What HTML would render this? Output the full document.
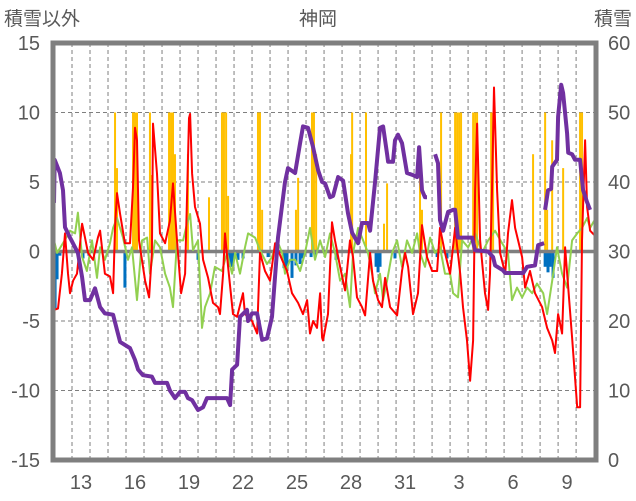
<!DOCTYPE html>
<html><head><meta charset="utf-8">
<style>
html,body{margin:0;padding:0;background:#fff;}
svg{display:block;font-family:"Liberation Sans","Noto Sans CJK JP",sans-serif;}
</style></head>
<body>
<svg id="chart" width="636" height="501" viewBox="0 0 636 501" xmlns="http://www.w3.org/2000/svg">
<text x="4" y="25" font-size="19" fill="#595959">積雪以外</text>
<text x="318" y="25" font-size="19" fill="#595959" text-anchor="middle">神岡</text>
<text x="632" y="25" font-size="19" fill="#595959" text-anchor="end">積雪</text>
<g id="grid"></g>
<g id="bars" clip-path="url(#pc)"></g>
<g id="lines" clip-path="url(#pc)"></g>
<g id="axes"></g>
<defs><clipPath id="pc"><rect x="54" y="43" width="541" height="417"/></clipPath></defs>
</svg>
<script>
const xLabels=["13","16","19","22","25","28","31","3","6","9"];
const xLabelDays=[1.5,4.5,7.5,10.5,13.5,16.5,19.5,22.5,25.5,28.5];
const leftTicks=[15,10,5,0,-5,-10,-15];
const rightTicks=[60,50,40,30,20,10,0];
const redT=[0,.22,.44,.61,.78,.89,1.06,1.28,1.56,1.72,1.89,2.17,2.44,2.56,2.83,3.11,3.28,3.39,3.5,3.67,3.94,4.22,4.39,4.5,4.61,4.72,5.06,5.28,5.44,5.5,5.72,5.89,6.17,6.44,6.61,6.83,7.06,7.28,7.5,7.56,7.67,7.83,8.11,8.28,8.56,8.83,9.11,9.22,9.39,9.5,9.67,9.94,10.17,10.5,10.61,11,11.28,11.44,11.72,12,12.28,12.67,12.94,13.22,13.56,13.83,14.06,14.22,14.39,14.61,14.78,14.89,14.94,15.22,15.44,15.61,15.89,16.17,16.44,16.61,16.83,17.11,17.28,17.56,17.72,18,18.22,18.39,18.67,19.06,19.33,19.5,19.67,19.94,20.22,20.44,20.72,21,21.28,21.44,21.72,22,22.28,22.56,22.72,22.94,23.11,23.28,23.39,23.5,23.67,23.94,24.11,24.22,24.33,24.44,24.61,24.78,25.06,25.22,25.44,25.61,25.78,26,26.17,26.44,26.72,27.11,27.39,27.67,27.83,28,28.22,28.39,28.78,29.06,29.22,29.33,29.5,29.61,29.78,30];
const redV=[-4.2,-4.1,-1.6,1.3,-1.6,-3,-2.1,-1.6,2,1,-0.1,-0.6,1,1.5,-1.6,-1.8,-3,1.7,4.2,2.7,0.6,0.6,4.6,8.9,8,0.8,-2.1,-3.3,-0.1,9.2,5.6,1.3,0.6,2.2,4.9,0.8,-3,-1.6,9.6,9.9,5.6,3.2,2,-0.6,-1.9,-3.7,-4,-4.5,-1.6,1.3,-1.1,-4.5,-4.7,-3,-4.5,-5,-5.9,-0.1,-1.4,-2.1,0.6,-0.6,-1.4,-3,-3.7,-4.5,-3.5,-5.9,-5,-5.5,-3,-6.2,-6.4,-4.5,2.1,0.8,-1.1,-2.8,0.8,-0.4,-3.3,-4,-4.6,-0.1,-2.1,-3.5,-4,-1.9,-4,-4.6,-1.4,-0.1,-1.1,-4.5,-3,1.9,-0.4,-1.4,-1.4,1.7,-0.1,-1.6,1.7,-1.6,-4,-6.4,-9.3,-6.4,4.4,9.2,0.8,-3,-4.2,-1.6,4.4,11.8,4.4,-0.1,-1.6,1.3,3.7,1.7,0.8,-0.4,-2.6,-1.4,-3,-4,-5.5,-6.4,-7.3,-4.5,-5.9,0.3,-6.2,-11.2,-11.2,0.8,8,3.2,1.5,1.2];
const greenT=[0,.17,.5,.89,1.17,1.33,1.56,1.83,2.11,2.39,2.56,2.83,3.11,3.28,3.5,3.83,4.11,4.33,4.61,4.89,5.17,5.33,5.61,5.89,6.17,6.44,6.61,6.83,7.17,7.39,7.56,7.72,8,8.22,8.39,8.67,8.94,9.33,9.61,9.89,10.06,10.33,10.61,10.78,11.17,11.44,11.83,12.11,12.39,12.67,12.83,13.11,13.39,13.67,13.94,14.22,14.5,14.78,15.06,15.33,15.61,15.89,16.17,16.44,16.61,16.89,17.17,17.44,17.67,17.83,18.11,18.28,18.5,18.78,19.06,19.33,19.61,19.89,20.17,20.33,20.61,20.89,21.17,21.44,21.72,22,22.17,22.44,22.67,23,23.39,23.78,24.11,24.5,24.89,25.22,25.44,25.72,26,26.28,26.56,26.83,27.17,27.39,27.67,27.94,28.22,28.5,28.78,29.06,29.33,29.61,29.78,30];
const greenV=[0.8,-0.1,0.6,1.5,1.3,2.8,-0.4,-1.4,0.8,-1.9,0.3,-0.6,0.6,1.7,2.4,1,-0.6,0.3,-3.5,0.8,1,-1.6,0.8,0.3,-1.6,-2.6,-4,0.8,0.8,2,2.7,0.1,0.8,-5.5,-4,-3,-1.1,-1.4,-0.1,-1.6,-0.1,-1.6,0.3,1.3,1,0.1,-0.9,-0.4,0.8,-0.1,-1.6,-0.6,-0.6,-1.4,-0.1,1.7,-0.6,0.8,-0.4,1.3,-0.1,-2.1,-1.6,-4,-0.1,1.7,0.8,-0.1,-1.6,-3,-1.6,-3.5,-2.1,-0.1,0.8,-1.1,0.8,-0.1,1.3,-0.1,-1.1,1,-0.1,0.3,-1.6,-1.6,-3,-3.3,0.8,0.3,1.3,-0.1,0.8,1.5,0.6,-0.1,-3.5,-2.6,-3.3,-2.6,-3,-2.3,-3,-4.5,-2.1,0.3,-1.6,-2.6,0.8,1.3,1.7,2.4,1.7,2.2];
const snowT=[0,.04,.33,.5,.61,.89,1.33,1.56,1.72,2,2.28,2.56,2.83,3.28,3.5,3.67,4.22,4.5,4.67,4.94,5.44,5.61,6.28,6.44,6.72,7,7.28,7.44,7.67,8,8.28,8.5,9.61,9.78,9.89,10.17,10.33,10.72,10.78,11,11.28,11.56,11.83,12.11,12.44,12.83,13,13.39,13.67,13.83,14.11,14.39,14.67,14.89,15.06,15.33,15.5,15.78,16.06,16.33,16.56,16.89,17.11,17.44,17.56,17.83,18.11,18.28,18.5,18.56,18.83,18.94,19.11,19.33,19.61,19.94,20.17,20.28,20.44,20.61,20.72,20.9,21.1,21.17,21.33,21.44,21.61,21.89,22.17,22.28,22.44,23.22,23.39,24.11,24.39,24.5,24.94,25.06,26.06,26.28,26.72,26.89,27.22,27.25,27.28,27.44,27.61,27.67,27.94,28,28.17,28.28,28.5,28.56,28.78,28.94,29.22,29.39,29.61,29.78];
const snowV=[37,43.2,41.3,38.8,33.5,32,29.8,26.3,23,23,24.7,22,21.1,20.9,18.7,17,16.1,14.4,13,12.2,12,11.1,11.1,10,8.9,9.8,9.8,8.9,8.6,7.2,7.6,8.9,8.9,7.9,13,13.7,20.6,21.6,20,21.1,21.1,17.3,17.5,20.6,32,40,42,41.3,45.6,48,47.8,45,41.7,40,39.8,37.8,38,40.7,40.2,35.5,32.7,31.2,34.1,34.1,33,39.9,47.8,48,44,42.9,42.9,46,46.8,45.6,41.3,41,40.7,45,38.8,37.8,37.8,null,null,44,42.7,34.5,33,35.7,36,36,32,32,30.2,30,29.2,28,27.3,26.9,26.9,27.8,28,30.9,31.2,null,36,38.8,39,42.2,43.2,49.4,54,52.8,47,44.2,44,43.2,43.2,38.8,37.1,36];
const snowfallT=[3.39,3.5,4.39,4.5,4.61,5.33,5.44,6.39,6.5,6.61,6.72,7.44,8.61,9.33,9.44,9.56,9.67,11.33,11.44,11.56,13.44,13.56,14.33,14.44,14.56,16.5,16.56,17.33,18.33,18.5,20.33,20.44,21.5,22.28,22.39,22.5,22.61,23.28,23.39,23.5,24.28,24.39,26.61,27.28,27.39,27.67,28.28,29.22,29.33];
const snowfallV=[10,6,10,10,10,10,5.5,10,10,10,7,7,3.9,10,10,10,4,10,10,3,3,5.3,10,10,7,7,10,10,2,4.9,5.8,3,10,10,10,10,10,10,10,10,10,10,7,10,3,8,6,10,10];
const blueT=[0.06,0.17,0.33,1.61,1.94,3.94,8,9.72,9.83,9.94,10.22,10.5,11.89,12.78,12.94,13.22,13.44,13.67,13.83,14.28,14.5,15.67,17.89,18,18.11,18.94,21.28,21.83,27.28,27.44,27.56,27.72];
const blueV=[-4.1,-2,-0.3,-0.5,-0.3,-2.6,-0.6,-1.1,-1.1,-1.1,-0.6,-0.5,-0.4,-1.2,-1.2,-1.9,-1,-0.9,-0.5,-0.4,-0.4,-0.6,-1.1,-1.5,-1.1,-0.5,-0.4,-0.5,-1.1,-1.5,-1.1,-1.9];

const NS="http://www.w3.org/2000/svg";
const X0=54,X1=595,Y0=43,Y1=460;
function xs(t){return X0+t*(X1-X0)/30.05;}
function yl(v){return Y1-(v+15)*(Y1-Y0)/30;}
function yr(v){return Y1-v*(Y1-Y0)/60;}
function mk(tag,attrs,parent){const e=document.createElementNS(NS,tag);for(const k in attrs)e.setAttribute(k,attrs[k]);parent.appendChild(e);return e;}
const grid=document.getElementById('grid'),bars=document.getElementById('bars'),lines=document.getElementById('lines'),axes=document.getElementById('axes');
for(let d=1;d<=29;d++){
  const l=mk('line',{x1:xs(d),x2:xs(d),y1:Y0,y2:Y1,stroke:'#7f7f7f','stroke-width':1,'stroke-dasharray':'4,3'},grid);
  
  
}
leftTicks.forEach(v=>{
  if(v!==0&&v!==15&&v!==-15){const l=mk('line',{x1:X0,x2:X1,y1:yl(v),y2:yl(v),stroke:'#7f7f7f','stroke-width':1,'stroke-dasharray':'4,3'},grid);
  
  }
  const t=mk('text',{x:40,y:yl(v)+7,'font-size':20,fill:'#595959','text-anchor':'end'},axes);t.textContent=v;
  
  
});
rightTicks.forEach(v=>{
  const t=mk('text',{x:608,y:yr(v)+7,'font-size':20,fill:'#595959'},axes);t.textContent=v;
  
  
});
xLabels.forEach((s,i)=>{
  const t=mk('text',{x:xs(xLabelDays[i]),y:489,'font-size':20,fill:'#595959','text-anchor':'middle'},axes);t.textContent=s;
  
  
});
snowfallT.forEach((t,i)=>{
  const v=snowfallV[i];const r=mk('rect',{x:xs(t)-1,y:yl(v),width:2,height:yl(0)-yl(v),fill:'#FFC000'},bars);
  
  
});
blueT.forEach((t,i)=>{
  const v=blueV[i];const r=mk('rect',{x:xs(t)-1.5,y:yl(0),width:3,height:yl(v)-yl(0),fill:'#0070C0'},bars);
  
  
});
function pathFrom(T,V,yf){let d='',pen=false;T.forEach((t,i)=>{const v=V[i];if(v===null){pen=false;return;}d+=(pen?'L':'M')+xs(t).toFixed(1)+','+yf(v).toFixed(1);pen=true;});return d;}
const zl=mk('line',{x1:X0,x2:X1,y1:yl(0),y2:yl(0),stroke:'#7f7f7f','stroke-width':3.5},lines);


const g=mk('path',{d:pathFrom(greenT,greenV,yl),fill:'none',stroke:'#92D050','stroke-width':2,'stroke-linejoin':'round'},lines);


const r=mk('path',{d:pathFrom(redT,redV,yl),fill:'none',stroke:'#FF0000','stroke-width':2,'stroke-linejoin':'round'},lines);


const p=mk('path',{d:pathFrom(snowT,snowV,yr),fill:'none',stroke:'#7030A0','stroke-width':4,'stroke-linejoin':'round'},lines);


const b=mk('rect',{x:53,y:43,width:543,height:417,fill:'none',stroke:'#7f7f7f','stroke-width':5},axes);


</script>
</body></html>
